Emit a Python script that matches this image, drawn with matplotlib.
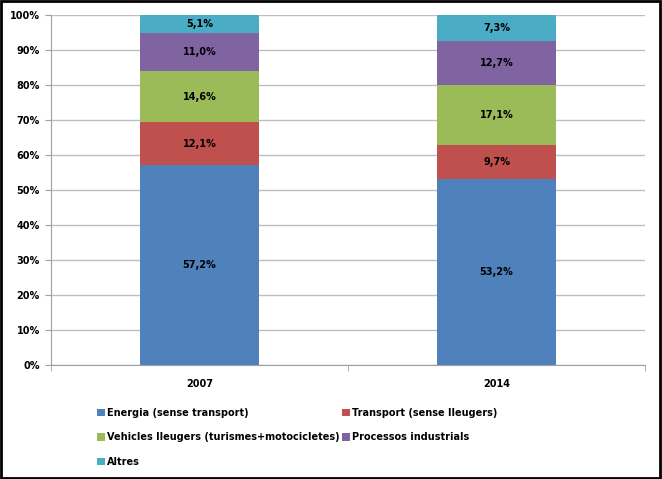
import numpy as np
import matplotlib.pyplot as plt
from matplotlib.patches import Rectangle

years = ['2007', '2014']
categories = ['Energia (sense transport)', 'Transport (sense lleugers)',
              'Vehicles lleugers (turismes+motocicletes)', 'Processos industrials',
              'Altres']
energia = [57.2, 53.2]
transport = [12.1, 9.7]
vehicles = [14.6, 17.1]
processos = [11.0, 12.7]
altres = [5.1, 7.3]
colors = ['#4F81BD', '#C0504D', '#9BBB59', '#8064A2', '#4BACC6']

series = [energia, transport, vehicles, processos, altres]

fig = plt.figure(figsize=(6.62, 4.79), dpi=100)
ax = fig.add_axes([51/662, 1-365/479, (645-51)/662, (365-15)/479])

x = np.arange(len(years))
bottom = np.zeros(len(years))
bars = []
for vals, col, name in zip(series, colors, categories):
    b = ax.bar(x, vals, 0.4, bottom=bottom, color=col, label=name, zorder=3)
    bars.append(b)
    for xi, v, bt in zip(x, vals, bottom):
        ax.text(xi, bt + v/2, ('%.1f%%' % v).replace('.', ','), ha='center', va='center',
                fontsize=7, fontweight='bold', color='black', zorder=4)
    bottom = bottom + np.array(vals)

ax.set_xlim(-0.5, 1.5)
ax.set_ylim(0, 100)
ax.set_yticks(np.arange(0, 101, 10))
ax.set_yticklabels(['%d%%' % v for v in range(0, 101, 10)], fontsize=7, fontweight='bold')
ax.set_xticks(x)
ax.set_xticklabels(years, fontsize=7, fontweight='bold')
ax.set_xticks([-0.5, 0.5, 1.5], minor=True)
ax.tick_params(axis='x', which='major', length=0, pad=10)
ax.tick_params(axis='x', which='minor', length=4, color='#A0A0A0')
ax.tick_params(axis='y', length=4, color='#A0A0A0', pad=4)
ax.yaxis.grid(True, color='#BFBFBF', linewidth=1, zorder=0)
for s in ['top', 'right']:
    ax.spines[s].set_visible(False)
ax.spines['left'].set_color('#A0A0A0')
ax.spines['bottom'].set_color('#A0A0A0')

h = [bars[0], bars[2], bars[4], bars[1], bars[3]]
l = [categories[0], categories[2], categories[4], categories[1], categories[3]]
fig.legend(h, l, loc='upper left', bbox_to_anchor=(93/662, 1-404/479), ncol=2,
           frameon=False, prop={'size': 7, 'weight': 'bold'}, handlelength=0.8,
           handleheight=0.8, handletextpad=0.2, columnspacing=0.3, labelspacing=1.5,
           borderaxespad=0)

fig.patches.append(Rectangle((0.002, 0.003), 0.995, 0.994, transform=fig.transFigure,
                             fill=False, edgecolor='black', linewidth=2))

fig.savefig('out.png', dpi=100)
